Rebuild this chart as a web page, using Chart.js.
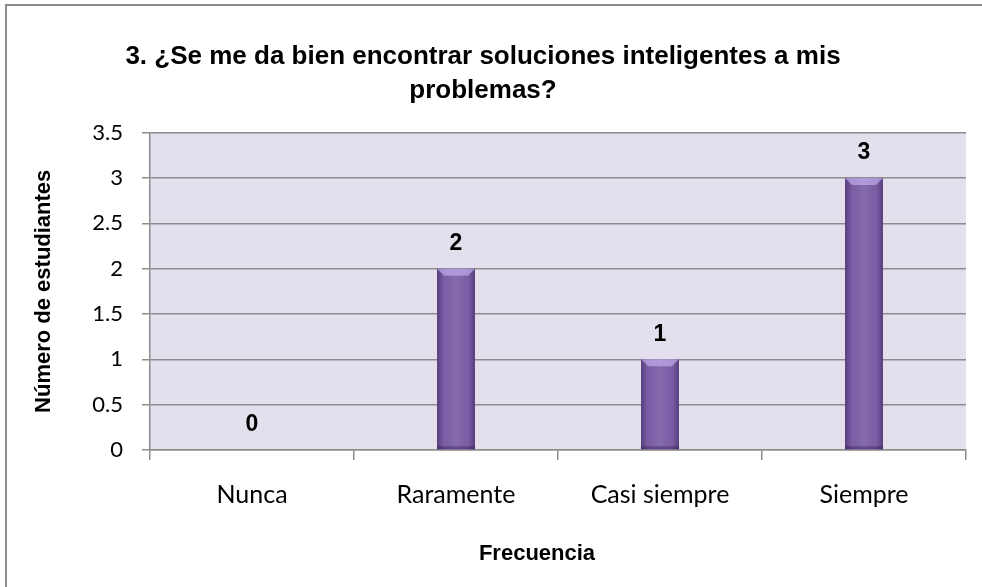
<!DOCTYPE html>
<html>
<head>
<meta charset="utf-8">
<script src="https://cdn.jsdelivr.net/npm/chart.js@4.4.0/dist/chart.umd.min.js"></script>
<style>
  html, body { margin: 0; padding: 0; background: #fff; }
  #wrap { width: 982px; height: 587px; }
</style>
</head>
<body>
<div id="wrap"><canvas id="grafico" width="982" height="587"></canvas></div>
<script>
// Datos del gráfico
const categorias = ['Nunca', 'Raramente', 'Casi siempre', 'Siempre'];
const estudiantes = [0, 2, 1, 3];
const tituloLineas = ['3. ¿Se me da bien encontrar soluciones inteligentes a mis', 'problemas?'];
const tituloY = 'Número de estudiantes';
const tituloX = 'Frecuencia';

const boldFont = '"Liberation Sans Narrow", "Liberation Sans", Arial, sans-serif';
const tickFont = 'Lato, "Open Sans", sans-serif';

// Fondo blanco, marco exterior y fondo lila del área de trazado
const fondoPlugin = {
    id: 'fondo',
    beforeDraw(chart) {
        const ctx = chart.ctx;
        const a = chart.chartArea;
        ctx.save();
        ctx.fillStyle = '#ffffff';
        ctx.fillRect(0, 0, chart.width, chart.height);
        ctx.strokeStyle = '#8c8c8c';
        ctx.lineWidth = 2;
        ctx.beginPath();
        ctx.moveTo(6, chart.height + 5);
        ctx.lineTo(6, 5);
        ctx.lineTo(chart.width + 5, 5);
        ctx.stroke();
        ctx.fillStyle = '#e4dfec';
        ctx.fillRect(a.left, a.top, a.right - a.left, a.bottom - a.top);
        ctx.restore();
    }
};

// Sombreado tipo bisel sobre las barras, etiquetas de valor y título del eje X
const biselPlugin = {
    id: 'bisel',
    afterDatasetsDraw(chart) {
        const ctx = chart.ctx;
        const meta = chart.getDatasetMeta(0);
        ctx.save();
        meta.data.forEach(function(bar, i) {
            const w = bar.width;
            const x0 = bar.x - w / 2;
            const x1 = bar.x + w / 2;
            const top = bar.y;
            const base = bar.base;
            if (base - top > 2) {
                const g = ctx.createLinearGradient(x0, 0, x1, 0);
                g.addColorStop(0, 'rgba(40,20,70,0.45)');
                g.addColorStop(0.18, 'rgba(40,20,70,0.05)');
                g.addColorStop(0.5, 'rgba(255,255,255,0.06)');
                g.addColorStop(0.82, 'rgba(40,20,70,0.05)');
                g.addColorStop(1, 'rgba(40,20,70,0.45)');
                ctx.fillStyle = g;
                ctx.fillRect(x0, top, w, base - top);
                // tapa superior
                const b = 7;
                ctx.fillStyle = 'rgba(205,185,245,0.6)';
                ctx.beginPath();
                ctx.moveTo(x0, top);
                ctx.lineTo(x1, top);
                ctx.lineTo(x1 - b, top + b);
                ctx.lineTo(x0 + b, top + b);
                ctx.closePath();
                ctx.fill();
                // borde inferior
                ctx.fillStyle = 'rgba(40,20,70,0.35)';
                ctx.fillRect(x0, base - 3, w, 3);
            }
            ctx.fillStyle = '#000';
            ctx.font = 'bold 23px ' + boldFont;
            ctx.textAlign = 'center';
            ctx.textBaseline = 'middle';
            ctx.fillText(String(estudiantes[i]), bar.x, top - 25);
        });

        const a = chart.chartArea;
        ctx.font = 'bold 22px ' + boldFont;
        ctx.textAlign = 'center';
        ctx.textBaseline = 'middle';
        ctx.fillText(tituloX, (a.left + a.right) / 2 - 21, 554);
        ctx.restore();
    }
};

const ctx = document.getElementById('grafico').getContext('2d');
new Chart(ctx, {
    type: 'bar',
    data: {
        labels: categorias,
        datasets: [{
            label: tituloY,
            data: estudiantes,
            backgroundColor: '#7e61aa',
            borderWidth: 0,
            categoryPercentage: 1,
            barPercentage: 0.186
        }]
    },
    options: {
        responsive: false,
        animation: false,
        layout: { padding: { left: 0, right: 16, top: 0, bottom: 0 } },
        plugins: {
            legend: { display: false },
            tooltip: { enabled: false },
            title: {
                display: true,
                text: tituloLineas,
                color: '#000',
                font: { family: boldFont, size: 26, weight: 'bold', lineHeight: 1.3 },
                padding: { top: 40, bottom: 25 }
            }
        },
        scales: {
            y: {
                min: 0,
                max: 3.5,
                ticks: {
                    stepSize: 0.5,
                    color: '#000',
                    padding: 19,
                    font: { family: tickFont, size: 22 },
                    callback: function(value) { return String(value); }
                },
                grid: { color: '#8c8c8c', lineWidth: 1.5, tickLength: 8 },
                border: { color: '#8c8c8c', width: 1.5 },
                title: {
                    display: true,
                    text: tituloY,
                    color: '#000',
                    font: { family: boldFont, size: 22, weight: 'bold', lineHeight: 1.2 },
                    padding: { top: 31, bottom: 0 }
                },
                afterFit(scale) { scale.width = 150; }
            },
            x: {
                ticks: {
                    color: '#000',
                    padding: 20,
                    font: { family: tickFont, size: 25 }
                },
                grid: { color: '#8c8c8c', lineWidth: 1.5, tickLength: 10, drawOnChartArea: false, offset: true },
                border: { color: '#8c8c8c', width: 1.5 },
                afterFit(scale) { scale.height = 137; }
            }
        }
    },
    plugins: [fondoPlugin, biselPlugin]
});
</script>
</body>
</html>
